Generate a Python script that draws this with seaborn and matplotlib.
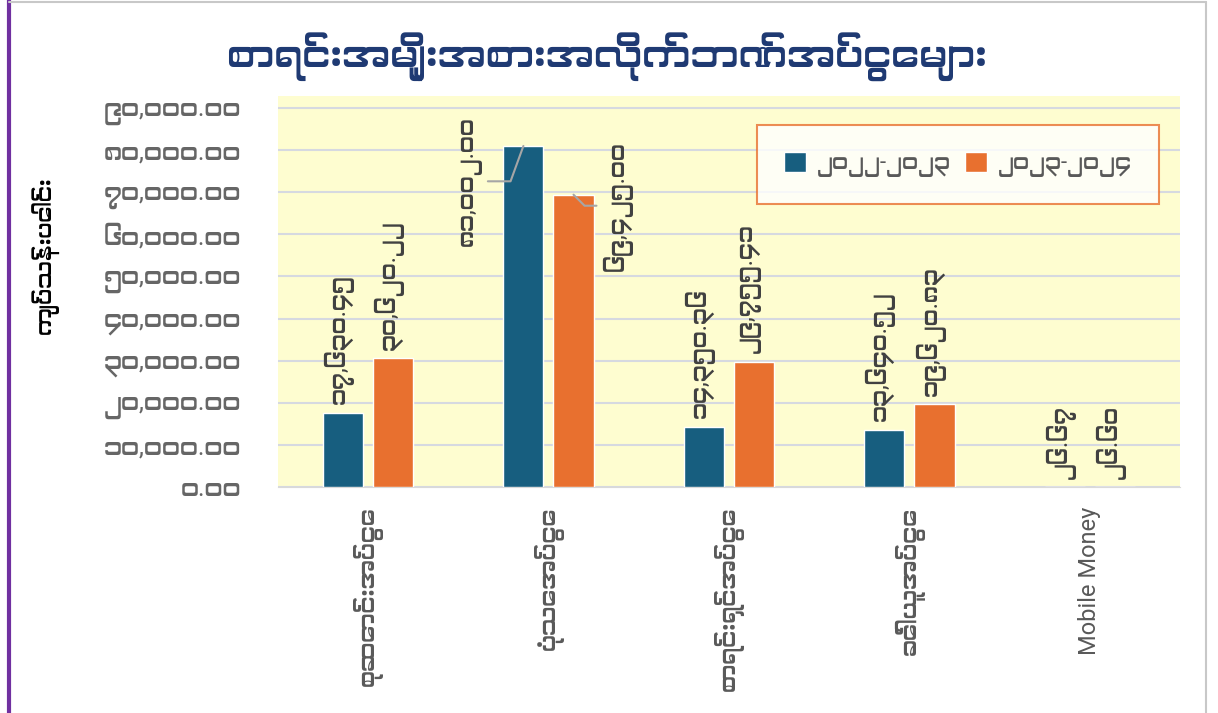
import numpy as np
import matplotlib
matplotlib.use("Agg")
import matplotlib.pyplot as plt
import matplotlib.lines as mlines
from matplotlib import font_manager
from matplotlib.ft2font import FT2Font
import pandas as pd
import seaborn as sns

# ---- data (kyat, millions) ----
categories = ["စုဆောင်းအပ်ငွေ", "ပုံသေအပ်ငွေ",
              "စာရင်းရှင်အပ်ငွေ", "ခေါ်ယူအပ်ငွေ", "Mobile Money"]
years = ["၂၀၂၂-၂၀၂၃", "၂၀၂၃-၂၀၂၄"]
deposits_2022 = [17630.45, 81002.00, 14350.36, 13640.52, 26.67]
deposits_2023 = [30620.22, 69425.00, 29755.41, 19620.83, 26.60]
y_ticks = [0, 10000, 20000, 30000, 40000, 50000, 60000, 70000, 80000, 90000]

title = "စာရင်းအမျိုးအစားအလိုက်ဘဏ်အပ်ငွေများ"
y_title = "ကျပ်သန်းပေါင်း"

BLUE = "#175E7F"
ORANGE = "#E8702F"
GREY = "#595959"

# find a font that can draw Myanmar script, if one is installed
mm_font = None
for f in font_manager.fontManager.ttflist:
    if any(k in f.name for k in ("Myanmar", "Padauk", "Pyidaungsu")):
        mm_font = f.name
        break
if mm_font is None:
    for f in font_manager.fontManager.ttflist:
        try:
            if 0x1000 in FT2Font(f.fname).get_charmap():
                mm_font = f.name
                break
        except Exception:
            pass

sns.set_style("white")
fams = ["Roboto"] + ([mm_font] if mm_font else []) + ["DejaVu Sans"]
plt.rcParams["font.family"] = fams

MM_DIGITS = str.maketrans("0123456789", "၀၁၂၃၄၅၆၇၈၉")


def mm_num(v):
    return f"{v:,.2f}".translate(MM_DIGITS)


df = pd.DataFrame({
    "category": categories * 2,
    "year": [years[0]] * len(categories) + [years[1]] * len(categories),
    "value": deposits_2022 + deposits_2023,
})

fig = plt.figure(figsize=(12.18, 7.13), dpi=100)
ax = fig.add_axes([0.228, 0.317, 0.741, 0.548])
ax.set_facecolor("#FEFDD0")

sns.barplot(data=df, x="category", y="value", hue="year",
            palette=[BLUE, ORANGE], width=0.555, gap=0.2,
            saturation=1, ax=ax, zorder=3)

ax.set_ylim(0, 92800)
ax.set_xlim(-0.5, 4.5)
ax.set_yticks(y_ticks)
ax.set_yticklabels([mm_num(t) for t in y_ticks], fontsize=18, color="#666666")
ax.grid(axis="y", color="#D6D9E0", linewidth=1.5, zorder=0)
ax.tick_params(axis="x", labelrotation=90, labelsize=17, labelcolor=GREY,
               length=0, pad=14)
ax.tick_params(axis="y", length=0, pad=26)
for s in ["top", "right", "left"]:
    ax.spines[s].set_visible(False)
ax.spines["bottom"].set_color("#D9D9D9")
ax.set_xlabel("")
ax.set_ylabel(y_title, fontsize=16, fontweight="bold", fontstyle="italic",
              color="black")
ax.yaxis.set_label_coords(-0.241, 0.593)

# data labels
special = {(0, 1): (0.567, 72600, 70), (1, 1): (1.383, 66800, -45)}
for si, cont in enumerate(ax.containers):
    for ci, bar in enumerate(cont):
        h = bar.get_height()
        xc = bar.get_x() + bar.get_width() / 2
        txt = mm_num(h)
        if (si, ci) in special:
            tx, ty, ang = special[(si, ci)]
            ax.annotate(txt, xy=(xc, h), xytext=(tx, ty), rotation=90,
                        ha="center", va="center",
                        fontsize=17, color="#404040", zorder=5,
                        arrowprops=dict(arrowstyle="-", color="#A6A6A6",
                                        lw=1.5, shrinkA=2, shrinkB=0,
                                        connectionstyle=f"angle,angleA=0,angleB={ang}"))
        else:
            ax.annotate(txt, xy=(xc, h), xytext=(-3, 6), textcoords="offset points",
                        rotation=90, ha="center", va="bottom",
                        fontsize=17, color="#404040", zorder=5)

leg = ax.legend(loc="upper right", bbox_to_anchor=(0.976, 0.926), ncol=2,
                fontsize=16, frameon=True, fancybox=False, handlelength=1.0,
                handleheight=1.0, handletextpad=0.5, columnspacing=0.6,
                borderpad=1.2, borderaxespad=0, labelcolor=GREY)
leg.get_frame().set_edgecolor(ORANGE)
leg.get_frame().set_linewidth(1.5)

fig.text(0.498, 0.92, title, ha="center", va="center", fontsize=28,
         fontweight="bold", color="#1F3A73")

# frame around the picture
fig.add_artist(mlines.Line2D([0.007, 0.007], [0, 1], color="#7030A0", lw=3))
fig.add_artist(mlines.Line2D([0.007, 0.99], [0.997, 0.997], color="#C8C8C8", lw=1.5))
fig.add_artist(mlines.Line2D([0.99, 0.99], [0, 0.997], color="#C8C8C8", lw=1.5))

fig.savefig("out.png", dpi=100)
